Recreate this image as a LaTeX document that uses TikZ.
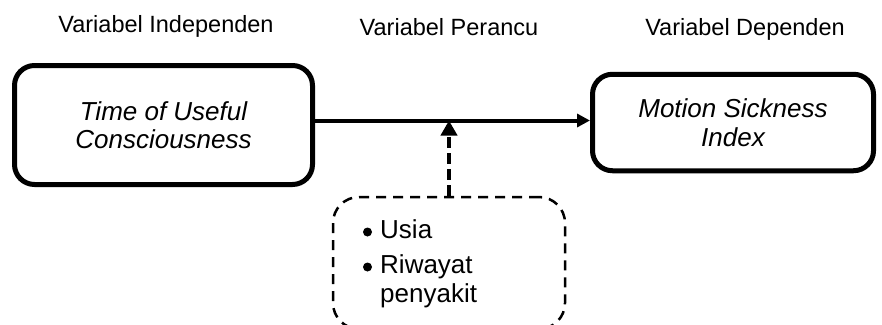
\documentclass[tikz,border=0pt]{standalone}
\usepackage{fontspec}
\setmainfont{Liberation Sans}
\usetikzlibrary{arrows.meta}
\begin{document}
\begin{tikzpicture}[x=1pt,y=-1pt,
  header/.style={anchor=base,inner sep=0pt,font=\fontsize{23.5}{28}\selectfont},
  varbox/.style={draw,line width=5pt,rounded corners=20pt,align=center,
    font=\fontsize{26}{28.5}\selectfont\itshape,inner sep=0pt},
  confbox/.style={draw,line width=2.5pt,rounded corners=26pt,
    dash pattern=on 10pt off 7pt,inner sep=0pt},
  mainarrow/.style={line width=4pt,-{Triangle[length=13pt,width=13pt]}},
  confarrow/.style={line width=4pt,dash pattern=on 11pt off 5pt,
    -{Triangle[length=15pt,width=16pt]}},
  bul/.style={circle,fill,inner sep=0pt,minimum size=9pt},
  item/.style={anchor=base west,inner sep=0pt,font=\fontsize{26}{29}\selectfont}]
\useasboundingbox (0,0) rectangle (882,324);
\clip (0,0) rectangle (882,324);
\node[header] (hind) at (166,32) {Variabel Independen};
\node[header] (hcon) at (449,35) {Variabel Perancu};
\node[header] (hdep) at (745,35) {Variabel Dependen};
\node[varbox,minimum width=298pt,minimum height=119pt] (lbox) at (163.5,125)
  {Time of Useful\\Consciousness};
\node[varbox,minimum width=281pt,minimum height=96.5pt] (rbox) at (733,122.5)
  {Motion Sickness\\Index};
\node[confbox,minimum width=232pt,minimum height=132pt] (dbox) at (449,263) {};
\coordinate (ay) at (0,120.5);
\draw[mainarrow] (lbox.east |- ay) -- (rbox.west |- ay);
\draw[confarrow] (dbox.north) -- (dbox.north |- ay);
\node[bul] (b1) at (367.5,232) {};
\node[item] (t1) at (380,238) {Usia};
\node[bul] (b2) at (367.5,267) {};
\node[item] (t2) at (380,273) {Riwayat};
\node[item] (t3) at (380,302) {penyakit};
\end{tikzpicture}
\end{document}
